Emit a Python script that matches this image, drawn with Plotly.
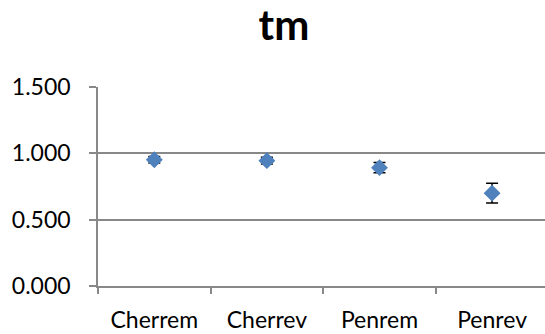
import plotly.graph_objects as go

# Group means and their error margins
categories = ["Cherrem", "Cherrev", "Penrem", "Penrev"]
values = [0.952, 0.945, 0.892, 0.700]
errors = [0.025, 0.025, 0.038, 0.075]
y_ticks = [0.0, 0.5, 1.0, 1.5]
y_tick_labels = ["0.000", "0.500", "1.000", "1.500"]

W, H = 545, 334
grid_col = "#888888"
font_family = "Lato, 'Open Sans', sans-serif"

fig = go.Figure(
    go.Scatter(
        x=categories,
        y=values,
        mode="markers",
        marker=dict(symbol="diamond", size=13, color="#4F81BD",
                    line=dict(width=0)),
        error_y=dict(type="data", array=errors, visible=True,
                     color="black", thickness=1.5, width=6),
        showlegend=False,
    )
)

fig.update_layout(
    width=W, height=H,
    margin=dict(l=98, r=0, t=87, b=48),
    paper_bgcolor="white", plot_bgcolor="white",
    font=dict(family=font_family, color="black"),
    title=dict(text="<b>tm</b>", x=284 / W, xanchor="center",
               y=1 - 25 / H, yanchor="middle",
               font=dict(size=42, family=font_family, color="black")),
)

fig.update_xaxes(
    type="category",
    range=[-0.5, 3.47],
    showgrid=False,
    showline=True, linecolor=grid_col, linewidth=1.5,
    ticks="outside", tickson="boundaries", ticklen=6,
    tickcolor=grid_col, tickwidth=1.5,
    tickfont=dict(size=23),
    ticklabelstandoff=13,
)

fig.update_yaxes(
    range=[0, 1.5],
    tickvals=y_ticks, ticktext=y_tick_labels,
    showgrid=True, gridcolor=grid_col, gridwidth=1.5,
    showline=True, linecolor=grid_col, linewidth=1.5,
    ticks="outside", ticklen=7, tickcolor=grid_col, tickwidth=1.5,
    tickfont=dict(size=23),
    ticklabelstandoff=14,
    zeroline=False,
)

fig.write_html("out.html")
